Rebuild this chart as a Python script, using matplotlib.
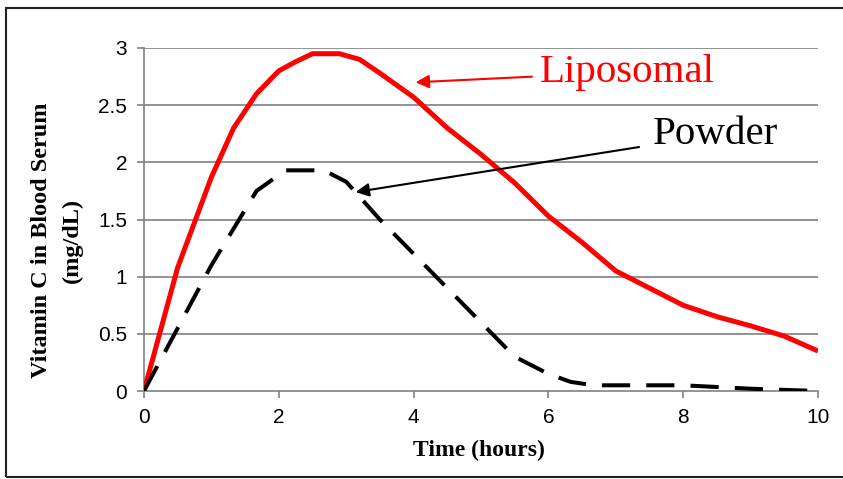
import matplotlib.pyplot as plt
from matplotlib.patches import Rectangle

# liposomal vitamin C curve
lipo_t = [0, 0.5, 1, 1.33, 1.67, 2, 2.25, 2.5, 2.9, 3.2, 3.5, 4, 4.5, 5, 5.5, 6, 6.5, 7, 7.5, 8, 8.5, 9, 9.5, 10]
lipo_c = [0, 1.08, 1.87, 2.3, 2.6, 2.8, 2.88, 2.95, 2.95, 2.9, 2.78, 2.57, 2.3, 2.07, 1.82, 1.53, 1.3, 1.05, 0.9, 0.75, 0.65, 0.57, 0.48, 0.35]

# powder curve
powder_t = [0, 1, 1.67, 2.1, 2.67, 3, 3.5, 4, 4.5, 5, 5.5, 6, 6.33, 6.67, 7, 8, 9, 10]
powder_c = [0, 1.1, 1.75, 1.93, 1.93, 1.83, 1.5, 1.2, 0.9, 0.6, 0.3, 0.15, 0.08, 0.05, 0.05, 0.05, 0.02, 0]

xticks = [0, 2, 4, 6, 8, 10]
yticks = [0, 0.5, 1, 1.5, 2, 2.5, 3]

fig = plt.figure(figsize=(8.43, 4.79), dpi=100)
ax = fig.add_axes([0.1708, 0.1837, 0.7995, 0.7161])

# outer frame
fig.patches.append(Rectangle((6 / 843, 2 / 479), 845 / 843, 469 / 479, transform=fig.transFigure,
                             fill=False, edgecolor="#222222", linewidth=1.5))

for y in yticks[1:]:
    ax.axhline(y, color="#808080", linewidth=1.2, zorder=1)

ax.plot(lipo_t, lipo_c, color="#ff0000", linewidth=3.6, zorder=3, solid_capstyle="butt")
ax.plot(powder_t, powder_c, color="black", linewidth=2.9, dashes=(7, 4), zorder=3)

ax.set_xlim(0, 10)
ax.set_ylim(0, 3)
ax.set_xticks(xticks)
ax.set_yticks(yticks)
ax.set_yticklabels(["0", "0.5", "1", "1.5", "2", "2.5", "3"])
ax.tick_params(labelsize=15, colors="black", length=5, color="#808080", width=1.2, pad=7)
for lbl in ax.get_xticklabels() + ax.get_yticklabels():
    lbl.set_family("Liberation Sans")
ax.spines["top"].set_visible(False)
ax.spines["right"].set_visible(False)
ax.spines["left"].set_color("#808080")
ax.spines["bottom"].set_color("#808080")
ax.spines["left"].set_linewidth(1.2)
ax.spines["bottom"].set_linewidth(1.2)

ax.set_xlabel("Time (hours)", fontsize=17, fontweight="bold", family="Liberation Serif")
ax.set_ylabel("Vitamin C in Blood Serum\n(mg/dL)", fontsize=17.5, fontweight="bold",
              family="Liberation Serif", linespacing=1.65)
ax.xaxis.set_label_coords(0.497, -0.143)
ax.yaxis.set_label_coords(-0.09, 0.44)

ax.annotate("Liposomal", xy=(4.03, 2.70), xytext=(5.88, 2.79), color="#ff0000",
            fontsize=29.5, family="Liberation Serif", va="center",
            arrowprops=dict(arrowstyle="-|>", color="#ff0000", lw=1.5, mutation_scale=20,
                            shrinkA=4, shrinkB=0))
ax.annotate("Powder", xy=(3.14, 1.74), xytext=(7.55, 2.24), color="black",
            fontsize=29.5, family="Liberation Serif", va="center",
            arrowprops=dict(arrowstyle="-|>", color="black", lw=1.5, mutation_scale=20,
                            shrinkA=8, shrinkB=0))

fig.savefig("out.png", dpi=100)
